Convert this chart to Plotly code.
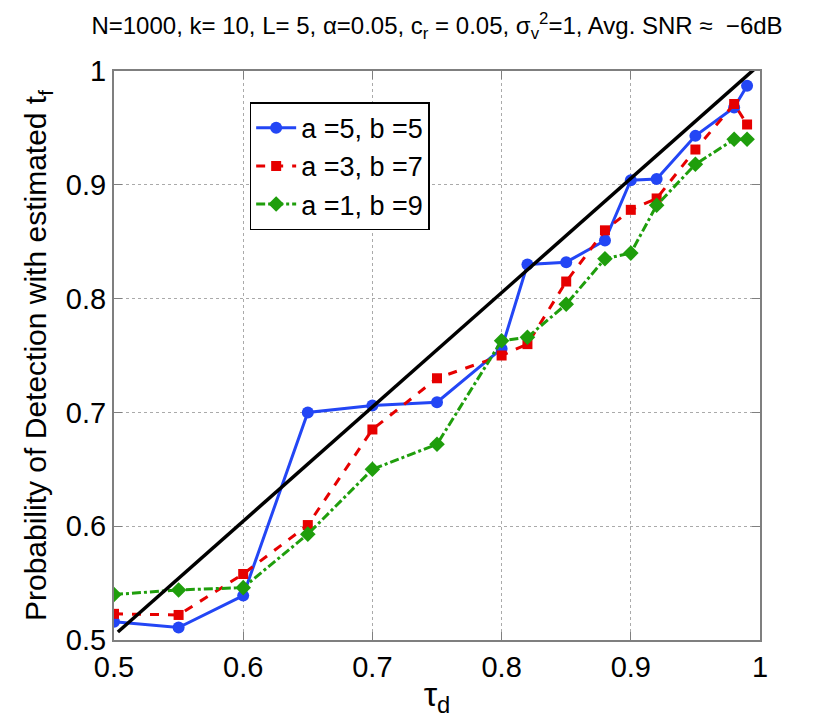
import plotly.graph_objects as go

# tau_d values on the x axis
tau_d = [0.5, 0.55, 0.6, 0.65, 0.7, 0.75, 0.8, 0.82, 0.85, 0.88, 0.9, 0.92, 0.95, 0.98, 0.99]

# probability of detection for each (a, b) pair
pd_a5_b5 = [0.516, 0.511, 0.539, 0.700, 0.706, 0.709, 0.756, 0.830, 0.832, 0.851,
            0.904, 0.905, 0.943, 0.968, 0.987]
pd_a3_b7 = [0.523, 0.522, 0.558, 0.601, 0.685, 0.730, 0.750, 0.760, 0.815, 0.860,
            0.878, 0.888, 0.931, 0.971, 0.953]
pd_a1_b9 = [0.540, 0.544, 0.546, 0.593, 0.650, 0.672, 0.763, 0.766, 0.795, 0.835,
            0.840, 0.882, 0.918, 0.940, 0.940]

# reference line
ref_x = [0.503, 1.0]
ref_y = [0.507, 1.006]

tick_vals = [0.5, 0.6, 0.7, 0.8, 0.9, 1]
tick_text = ['0.5', '0.6', '0.7', '0.8', '0.9', '1']

font = "Liberation Sans, Arial, Helvetica, sans-serif"

fig = go.Figure()

fig.add_trace(go.Scatter(x=tau_d, y=pd_a5_b5, mode='lines+markers', name='a =5, b =5',
                         line=dict(color='#2346f5', width=3),
                         marker=dict(symbol='circle', size=12, color='#2346f5')))
fig.add_trace(go.Scatter(x=tau_d, y=pd_a3_b7, mode='lines+markers', name='a =3, b =7',
                         line=dict(color='#e60000', width=3, dash='dash'),
                         marker=dict(symbol='square', size=10, color='#e60000')))
fig.add_trace(go.Scatter(x=tau_d, y=pd_a1_b9, mode='lines+markers', name='a =1, b =9',
                         line=dict(color='#1f9e0c', width=3, dash='dashdot'),
                         marker=dict(symbol='diamond', size=12, color='#1f9e0c')))
fig.add_trace(go.Scatter(x=ref_x, y=ref_y, mode='lines', showlegend=False,
                         line=dict(color='black', width=3.5)))

axis_common = dict(
    showgrid=True, gridcolor='#aaaaaa', griddash='dot', gridwidth=1,
    showline=True, linecolor='#7f7f7f', linewidth=2, mirror='ticks',
    ticks='inside', ticklen=8, tickcolor='#7f7f7f',
    tickfont=dict(family=font, size=29, color='black'),
    zeroline=False,
)

fig.update_layout(
    width=830, height=720,
    paper_bgcolor='white', plot_bgcolor='white',
    margin=dict(l=106, r=78, t=63, b=88),
    font=dict(family=font, color='black'),
    title=dict(text='N=1000, k= 10, L= 5, \u03b1=0.05, c<sub>r</sub> = 0.05, '
                    '\u03c3<sub>v</sub><sup>2</sup>=1, Avg. SNR \u2248  \u22126dB',
               x=0.5, xref='paper', xanchor='center', y=0.975, yanchor='middle',
               font=dict(family=font, size=24)),
    xaxis=dict(range=[0.5, 1], tickvals=tick_vals, ticktext=tick_text,
               title=dict(text='\u03c4<sub>d</sub>', font=dict(family=font, size=34), standoff=0),
               **axis_common),
    yaxis=dict(range=[0.5, 1], tickvals=tick_vals, ticktext=tick_text,
               title=dict(text='Probability of Detection with estimated t<sub>f</sub>',
                          font=dict(family=font, size=30), standoff=10),
               **axis_common),
    legend=dict(x=0.21, y=0.945, xanchor='left', yanchor='top',
                bgcolor='white', bordercolor='black', borderwidth=1.5,
                font=dict(family=font, size=27), itemwidth=40, tracegroupgap=0),
)

fig.write_html("out.html")
